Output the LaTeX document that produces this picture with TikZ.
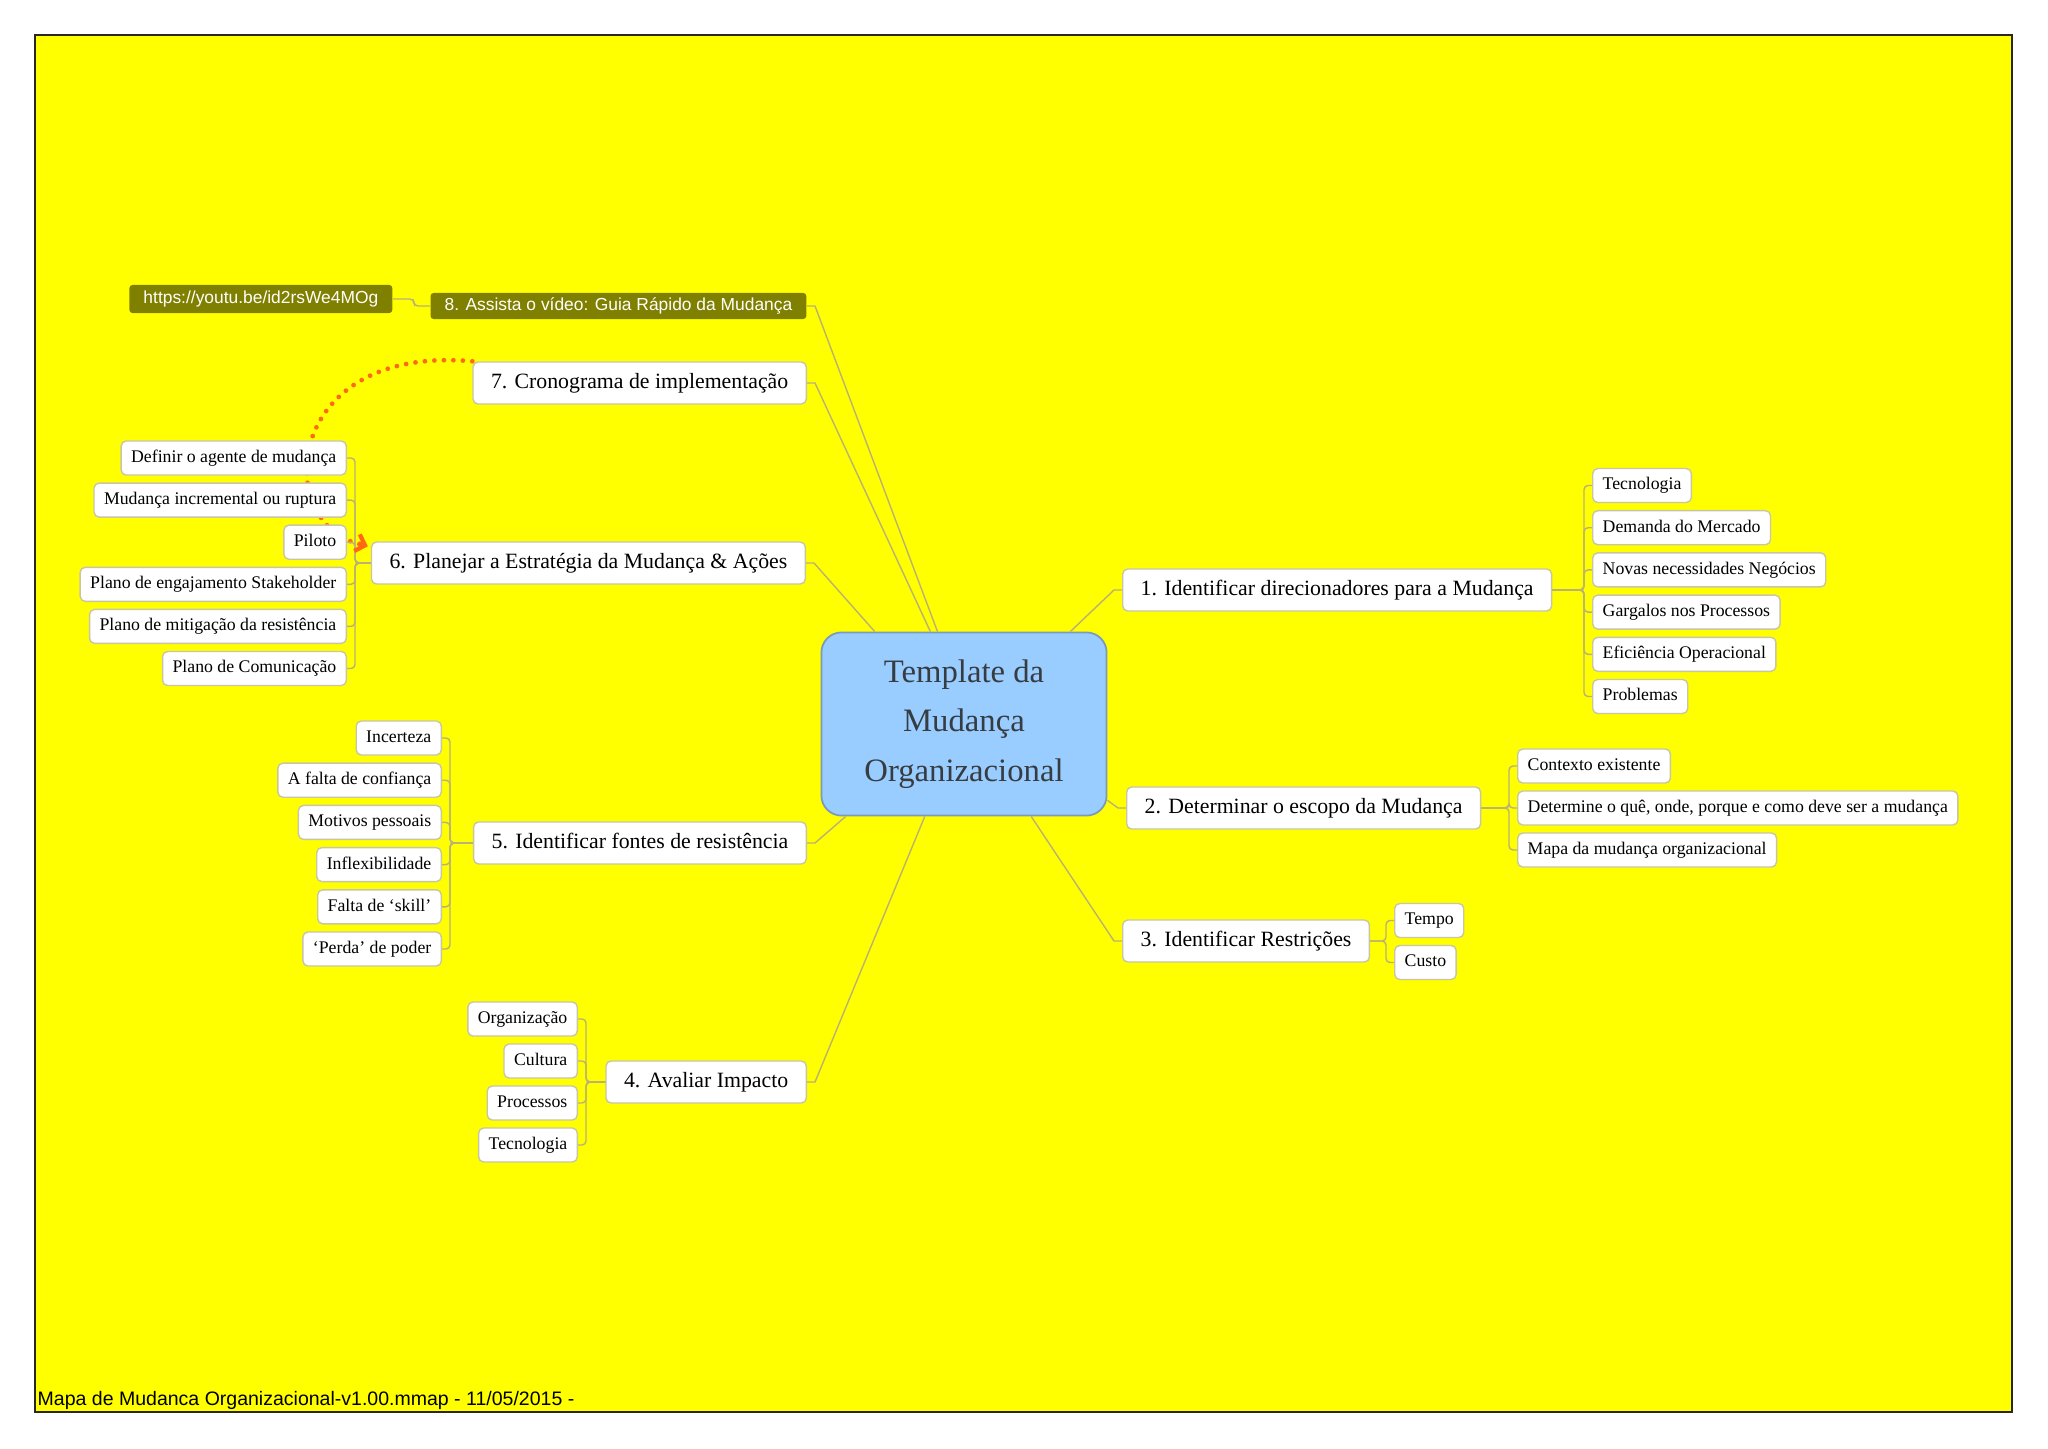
\documentclass[tikz,border=0pt]{standalone}
\usepackage{fontspec}
\setmainfont{Liberation Serif}
\newfontfamily\arialfont{Liberation Sans}
\usetikzlibrary{calc,arrows.meta,backgrounds}
\definecolor{mapyellow}{RGB}{255,255,0}
\definecolor{framecol}{RGB}{40,40,30}
\definecolor{linecol}{RGB}{185,178,115}
\definecolor{boxline}{RGB}{200,198,165}
\definecolor{olivebox}{RGB}{128,128,0}
\definecolor{rootfill}{RGB}{153,204,255}
\definecolor{rootline}{RGB}{125,155,185}
\definecolor{roottext}{RGB}{55,60,65}
\definecolor{hintcol}{RGB}{255,105,20}
\tikzset{
  trunk/.style={draw=linecol,line width=0.4pt},
  twig/.style={draw=linecol,line width=0.4pt,rounded corners=0.04cm},
  topic/.style={draw=boxline,fill=white,line width=0.4pt,rounded corners=0.05cm,
    minimum height=0.42cm,inner xsep=0.18cm,inner ysep=0pt,
    text height=4.4pt,text depth=1.4pt,font=\fontsize{6.2}{7}\selectfont},
  leaf/.style={topic,minimum height=0.34cm,inner xsep=0.1cm,
    text height=3.6pt,text depth=1.1pt,font=\fontsize{5.05}{6}\selectfont},
  vidbox/.style={fill=olivebox,text=white,rounded corners=0.03cm,inner xsep=0.14cm,
    inner ysep=0pt,text height=3.6pt,text depth=1pt,font=\arialfont\fontsize{4.95}{6}\selectfont},
  rootbox/.style={draw=rootline,fill=rootfill,text=roottext,line width=0.5pt,
    rounded corners=0.2cm,minimum width=2.85cm,minimum height=1.83cm,align=center,
    font=\fontsize{9.3}{14}\selectfont},
  hint/.style={draw=hintcol,line width=1.35pt,line cap=round,dash pattern=on 0pt off 2.7pt},
  hinttip/.style={draw=hintcol,line width=1.2pt,-{Straight Barb[length=2.4pt,width=5pt,line width=1.2pt]}},
}
\newcommand{\rkid}[5]{%
  \node[leaf,anchor=west] (#1) at (#3,{#4}) {#5};
  \draw[twig] (#2.east) -| ($(#1.west)+(-8,0)$) -- (#1.west);}
\newcommand{\lkid}[5]{%
  \node[leaf,anchor=east] (#1) at (#3,{#4}) {#5};
  \draw[twig] (#2.west) -| ($(#1.east)+(8,0)$) -- (#1.east);}
\newcommand{\rtrunk}[2]{\draw[trunk] (root.#2) -- ($(#1.west)+(-8,0)$) -- (#1.west);}
\newcommand{\ltrunk}[2]{\draw[trunk] (root.#2) -- ($(#1.east)+(8,0)$) -- (#1.east);}

\begin{document}
\begin{tikzpicture}[x=0.01cm,y=-0.01cm]
  \useasboundingbox (0,0) rectangle (2048,1448);
  \begin{scope}[on background layer]
    \fill[white] (0,0) rectangle (2048,1448);
    \draw[fill=mapyellow,draw=framecol,line width=0.6pt] (35,35) rectangle (2012,1412);
  \end{scope}
  \node[rootbox] (root) at (964,724) {Template da\\Mudança\\Organizacional};
  \node[topic,anchor=west] (p1) at (1122,590) {1. Identificar direcionadores para a Mudança};
  \node[topic,anchor=west] (p2) at (1126,808) {2. Determinar o escopo da Mudança};
  \node[topic,anchor=west] (p3) at (1122,941) {3. Identificar Restrições};
  \node[topic,anchor=east] (p4) at (807,1082) {4. Avaliar Impacto};
  \node[topic,anchor=east] (p5) at (807,843) {5. Identificar fontes de resistência};
  \node[topic,anchor=east] (p6) at (806,563) {6. Planejar a Estratégia da Mudança \& Ações};
  \node[topic,anchor=east] (p7) at (807,383) {7. Cronograma de implementação};
  \node[vidbox,anchor=east,minimum height=0.26cm] (p8) at (807,306) {8. Assista o vídeo: Guia Rápido da Mudança};
  \node[vidbox,anchor=east,minimum height=0.28cm] (url) at (393,299) {https://youtu.be/id2rsWe4MOg};
  \rtrunk{p1}{41}\rtrunk{p2}{-28}\rtrunk{p3}{-54}
  \ltrunk{p4}{-113}\ltrunk{p5}{-142}\ltrunk{p6}{134}
  \ltrunk{p7}{110}\ltrunk{p8}{106}
  \draw[twig] (p8.west) -- ++(-16,0) |- (url.east);
  \foreach \t [count=\i] in {Tecnologia,Demanda do Mercado,Novas necessidades Negócios,
      Gargalos nos Processos,Eficiência Operacional,Problemas}
    \rkid{a\i}{p1}{1592}{485.5+42.2*(\i-1)}{\t};
  \foreach \t [count=\i] in {Contexto existente,
      {Determine o quê, onde, porque e como deve ser a mudança},Mapa da mudança organizacional}
    \rkid{b\i}{p2}{1517}{766+42*(\i-1)}{\t};
  \foreach \t [count=\i] in {Tempo,Custo}
    \rkid{c\i}{p3}{1394}{920.5+42*(\i-1)}{\t};
  \foreach \t [count=\i] in {Organização,Cultura,Processos,Tecnologia}
    \lkid{d\i}{p4}{578}{1019+42*(\i-1)}{\t};
  \foreach \t [count=\i] in {Incerteza,A falta de confiança,Motivos pessoais,
      Inflexibilidade,Falta de ‘skill’,‘Perda’ de poder}
    \lkid{e\i}{p5}{442}{738+42.2*(\i-1)}{\t};
  \foreach \t [count=\i] in {Definir o agente de mudança,Mudança incremental ou ruptura,Piloto,
      Plano de engajamento Stakeholder,Plano de mitigação da resistência,Plano de Comunicação}
    \lkid{f\i}{p6}{347}{458+42.1*(\i-1)}{\t};
  \coordinate (tipend) at ($(p6.north west)+(-3,5)$);
  \begin{scope}[on background layer]
    \draw[hint] (p7.north west)
      .. controls +(-190,-17) and +(-88,-21) .. ($(tipend)+(-8,-2)$);
  \end{scope}
  \draw[hinttip] ($(tipend)+(-9,-3)$) -- (tipend);
  \node[anchor=base west,inner sep=0pt,font=\arialfont\fontsize{5.55}{6}\selectfont] (foot)
    at (37,1405) {Mapa de Mudanca Organizacional-v1.00.mmap - 11/05/2015 -};
\end{tikzpicture}
\end{document}
